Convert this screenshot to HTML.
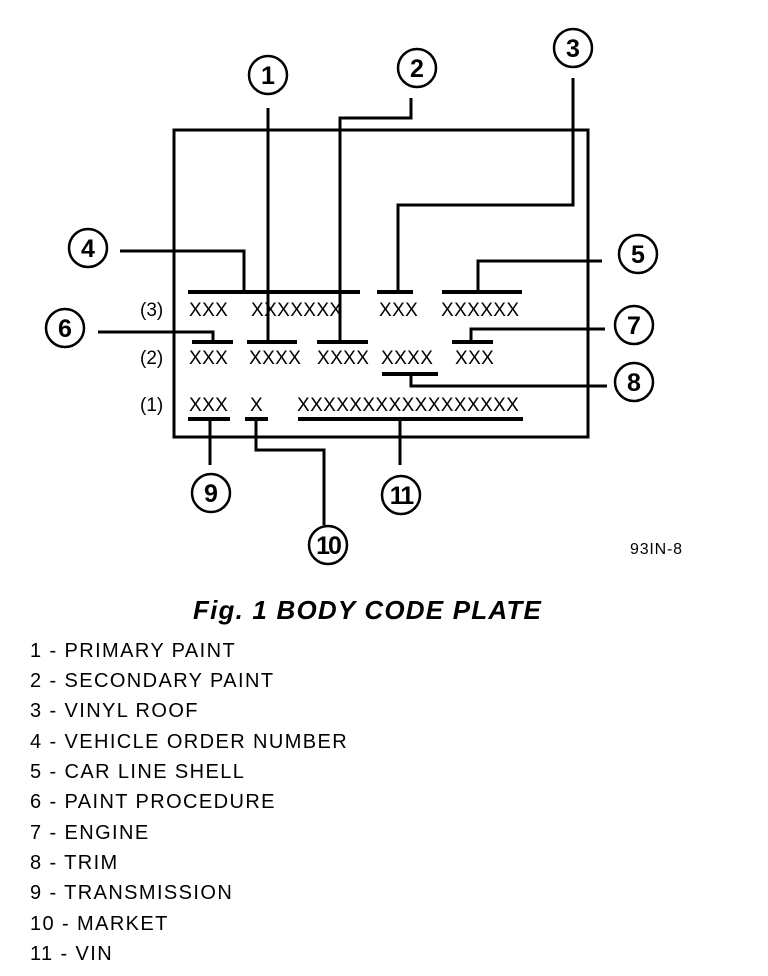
<!DOCTYPE html>
<html><head><style>
body{margin:0;background:#fff;width:768px;height:976px;overflow:hidden;font-family:"Liberation Sans",sans-serif}
.l{position:absolute;left:30px;font-size:20px;color:#000;letter-spacing:1.4px}
</style></head><body>
<svg width="768" height="976" style="position:absolute;left:0;top:0" font-family="Liberation Sans, sans-serif">
<g stroke="#000" stroke-width="3" fill="none">
<path d="M174 130H588V437H174Z" stroke-width="3"/>
<path d="M188 292H360M377 292H413M442 292H522" stroke-width="4"/>
<path d="M192 342H233M247 342H297M317 342H368M452 342H493" stroke-width="4"/>
<path d="M188 419H230M245 419H268M298 419H523" stroke-width="4"/>
<path d="M382 374H438" stroke-width="4"/>
<path d="M268 108V342"/>
<path d="M411 98V118H340V342"/>
<path d="M573 78V205H398V292"/>
<path d="M120 251H244V292"/>
<path d="M602 261H478V292"/>
<path d="M98 332H213V342"/>
<path d="M605 329H471V342"/>
<path d="M411 374V386H607"/>
<path d="M210 419V465"/>
<path d="M256 419V450H324V525"/>
<path d="M400 419V465"/>
</g>
<g stroke="#000" stroke-width="2.5" fill="#fff">
<circle cx="268" cy="75" r="19"/><circle cx="417" cy="68" r="19"/><circle cx="573" cy="48" r="19"/>
<circle cx="88" cy="248" r="19"/><circle cx="638" cy="254" r="19"/><circle cx="65" cy="328" r="19"/>
<circle cx="634" cy="325" r="19"/><circle cx="634" cy="382" r="19"/><circle cx="211" cy="493" r="19"/>
<circle cx="328" cy="545" r="19"/><circle cx="401" cy="495" r="19"/>
</g>
<g font-size="25" font-weight="bold" text-anchor="middle" fill="#000">
<text x="268" y="84">1</text><text x="417" y="77">2</text><text x="573" y="57">3</text>
<text x="88" y="257">4</text><text x="638" y="263">5</text><text x="65" y="337">6</text>
<text x="634" y="334">7</text><text x="634" y="391">8</text><text x="211" y="502">9</text>
<text x="328" y="554" letter-spacing="-2">10</text><text x="401" y="504" letter-spacing="-2">11</text>
</g>
<g font-size="19" fill="#000" letter-spacing="0.4">
<text x="140" y="316" letter-spacing="0">(3)</text><text x="140" y="364" letter-spacing="0">(2)</text><text x="140" y="411" letter-spacing="0">(1)</text>
<text x="189" y="316">XXX</text><text x="251" y="316">XXXXXXX</text><text x="379" y="316">XXX</text><text x="441" y="316">XXXXXX</text>
<text x="189" y="364">XXX</text><text x="249" y="364">XXXX</text><text x="317" y="364">XXXX</text><text x="381" y="364">XXXX</text><text x="455" y="364">XXX</text>
<text x="189" y="411">XXX</text><text x="250" y="411">X</text><text x="297" y="411">XXXXXXXXXXXXXXXXX</text>
</g>
<text x="630" y="554" font-size="16" letter-spacing="0.8" fill="#000">93IN-8</text>
<text x="193" y="619" font-size="26" font-weight="bold" font-style="italic" letter-spacing="1.2" fill="#000">Fig. 1 BODY CODE PLATE</text>
</svg>
<div class="l" style="top:640px">1 - PRIMARY PAINT</div>
<div class="l" style="top:670px">2 - SECONDARY PAINT</div>
<div class="l" style="top:700px">3 - VINYL ROOF</div>
<div class="l" style="top:731px">4 - VEHICLE ORDER NUMBER</div>
<div class="l" style="top:761px">5 - CAR LINE SHELL</div>
<div class="l" style="top:791px">6 - PAINT PROCEDURE</div>
<div class="l" style="top:822px">7 - ENGINE</div>
<div class="l" style="top:852px">8 - TRIM</div>
<div class="l" style="top:882px">9 - TRANSMISSION</div>
<div class="l" style="top:913px">10 - MARKET</div>
<div class="l" style="top:943px">11 - VIN</div>
</body></html>
